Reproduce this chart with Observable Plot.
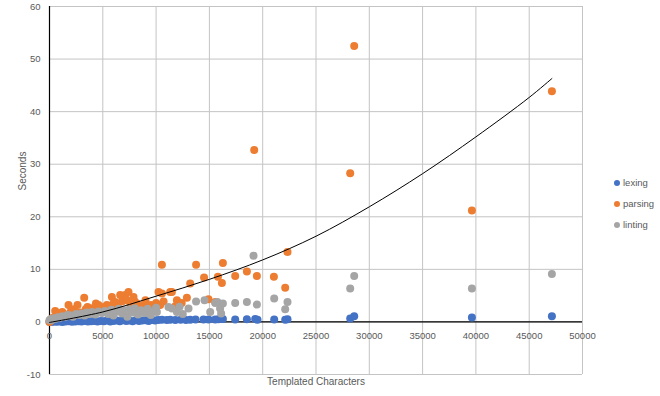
<!DOCTYPE html>
<html>
<head>
<meta charset="utf-8">
<script src="https://cdn.jsdelivr.net/npm/d3@7"></script>
<script src="https://cdn.jsdelivr.net/npm/@observablehq/plot@0.6"></script>
<style>
  html, body { margin: 0; padding: 0; background: #fff; }
  #wrap { position: relative; width: 660px; height: 396px; font-family: "Liberation Sans", Arial, sans-serif; }
  #wrap svg { position: absolute; left: 0; top: 0; }
  #legend { position: absolute; left: 614px; top: 172px; font-size: 9.5px; color: #595959; }
  .item { display: flex; align-items: center; height: 21px; }
  .sw { width: 6px; height: 6px; border-radius: 50%; margin-right: 3px; }
</style>
</head>
<body>
<div id="wrap"><div id="legend"></div></div>
<script>
// Series names and colours
const seriesNames = ["lexing", "parsing", "linting"];
const seriesColors = ["#4472C4", "#ED7D31", "#A5A5A5"];

// Tick values
const xTicks = [0, 5000, 10000, 15000, 20000, 25000, 30000, 35000, 40000, 45000, 50000];
const yTicks = [-10, 0, 10, 20, 30, 40, 50, 60];

// lexing: [templated characters, seconds]
const lexing = [
  [0,0.05],[200,0.0],[400,0.1],[650,0.05],[900,0.1],[1200,0.0],[1500,0.1],[1800,0.15],[2100,0.05],
  [2400,0.1],[2700,0.15],[3000,0.1],[3300,0.2],[3600,0.1],[3900,0.15],[4200,0.2],[4500,0.1],[4800,0.2],
  [5100,0.15],[5400,0.25],[5700,0.1],[6000,0.2],[6300,0.25],[6600,0.15],[6900,0.3],[7200,0.2],[7500,0.25],
  [7800,0.15],[8100,0.3],[8400,0.2],[8700,0.25],[9000,0.3],[9300,0.2],[9600,0.35],[9900,0.25],[10200,0.35],
  [10544,0.4],[11000,0.35],[11323,0.4],[11800,0.35],[12300,0.4],[12800,0.35],[13200,0.4],[13700,0.45],
  [14447,0.45],[14916,0.45],[15544,0.45],[15854,0.5],[16266,0.55],[17420,0.45],[18517,0.5],[19296,0.55],
  [19512,0.4],[21079,0.45],[22110,0.4],[22326,0.5],[28208,0.65],[28584,1.1],[39625,0.85],[47130,1.1]
];

// parsing
const parsing = [
  [0,0],[150,0.3],[300,0.8],[535,2.1],[700,1.2],[900,1.6],[1200,1.9],[1500,1.4],[1782,3.2],[2000,2.0],
  [2300,2.4],[2627,3.2],[2900,1.8],[3255,4.6],[3400,2.4],[3565,2.85],[3800,2.2],[4000,2.6],[4353,3.5],
  [4597,3.2],[4662,2.85],[4900,2.85],[5100,2.4],[5385,3.2],[5600,2.8],[5854,4.75],[6000,3.5],[6163,3.8],
  [6400,2.9],[6632,5.1],[6800,3.9],[7101,5.1],[7260,4.1],[7411,5.7],[7600,3.4],[7880,4.75],[8000,3.9],
  [8199,3.5],[8500,2.7],[8818,3.2],[9000,4.1],[9300,2.6],[9507,3.2],[9800,3.0],[10000,3.6],[10225,5.7],
  [10384,3.2],[10544,5.4],[10544,10.9],[10700,3.9],[11323,5.7],[11482,5.7],[11952,4.1],[11800,3.0],
  [12400,3.6],[12889,4.6],[13199,7.3],[13750,10.9],[14500,8.45],[14916,4.3],[15544,3.8],[15800,8.6],
  [16173,7.4],[16266,11.2],[17420,8.75],[18517,9.6],[19203,32.7],[19455,8.75],[21050,8.6],[22110,6.5],
  [22326,13.3],[28208,28.3],[28584,52.5],[39625,21.2],[47130,43.9]
];

// linting
const linting = [
  [0,0.3],[100,0.5],[250,0.4],[400,0.7],[600,0.6],[800,0.9],[1000,0.8],[1200,1.1],[1500,1.0],[1700,1.3],
  [2000,1.2],[2200,1.0],[2500,1.5],[2800,1.3],[3000,1.6],[3300,1.2],[3500,1.8],[3800,1.5],[4000,1.9],
  [4300,1.4],[4600,2.0],[4900,1.7],[5200,2.1],[5500,1.5],[5800,2.3],[6000,1.2],[6300,2.0],[6500,2.5],
  [6800,1.6],[7000,2.2],[7300,1.0],[7500,2.4],[7800,1.8],[8000,2.6],[8300,1.4],[8600,2.2],[8900,1.7],
  [9200,2.5],[9500,1.3],[9700,2.0],[10075,1.9],[10000,2.7],[11163,2.85],[11482,2.55],[11952,1.9],
  [12200,2.9],[12500,1.5],[13040,2.55],[13750,3.9],[14540,4.1],[15075,1.9],[15544,3.6],[15750,3.8],
  [16000,2.55],[16266,3.5],[16100,1.6],[17420,3.6],[18517,3.8],[19137,12.6],[19455,3.3],[21079,4.45],
  [22110,2.4],[22326,3.8],[28208,6.35],[28584,8.75],[39625,6.35],[47130,9.1]
];

// trend line
const trend = [
  [0,-0.1],[5000,1.9],[10000,4.9],[15000,8.1],[20000,11.8],[25000,16.3],[30000,21.9],
  [35000,28.2],[40000,35.2],[45000,42.7],[47130,46.3]
];

const seriesData = [lexing, parsing, linting];
const rows = seriesData.flatMap((arr, i) => arr.map(([x, y]) => ({x, y, s: seriesNames[i]})));

const font = "Liberation Sans, Arial, sans-serif";
const chart = Plot.plot({
  width: 660,
  height: 396,
  marginLeft: 49,
  marginRight: 78,
  marginTop: 6,
  marginBottom: 22,
  style: {fontFamily: font, background: "white", overflow: "visible"},
  x: {domain: [0, 50000], axis: null},
  y: {domain: [-10, 60], axis: null},
  marks: [
    Plot.ruleX(xTicks, {x: d => d, stroke: "#c4c4c4", strokeWidth: 1}),
    Plot.ruleY(yTicks, {y: d => d, stroke: "#c4c4c4", strokeWidth: 1}),
    Plot.ruleX([0], {x: d => d, stroke: "#000", strokeWidth: 1.2}),
    Plot.ruleY([0], {y: d => d, stroke: "#000", strokeWidth: 1.2}),
    ...seriesNames.map((name, i) =>
      Plot.dot(rows.filter(r => r.s === name), {x: "x", y: "y", r: 4, fill: seriesColors[i], stroke: "none"})
    ),
    Plot.line(trend, {x: d => d[0], y: d => d[1], curve: "catmull-rom", stroke: "#000", strokeWidth: 1}),
    Plot.text(xTicks, {x: d => d, y: () => 0, dy: 14, text: d => String(d), fill: "#595959", fontSize: 9.5}),
    Plot.text(yTicks, {x: () => 0, y: d => d, dx: -9, textAnchor: "end", text: d => String(d), fill: "#595959", fontSize: 9.5}),
    Plot.text(["Templated Characters"], {frameAnchor: "bottom", dy: 10, text: d => d, fill: "#595959", fontSize: 10}),
    Plot.text(["Seconds"], {frameAnchor: "left", dx: -27, rotate: -90, text: d => d, fill: "#595959", fontSize: 10})
  ]
});
document.getElementById("wrap").prepend(chart);

const legend = document.getElementById("legend");
seriesNames.forEach((name, i) => {
  const item = document.createElement("div");
  item.className = "item";
  const sw = document.createElement("span");
  sw.className = "sw";
  sw.style.background = seriesColors[i];
  const label = document.createElement("span");
  label.textContent = name;
  item.appendChild(sw);
  item.appendChild(label);
  legend.appendChild(item);
});
</script>
</body>
</html>
